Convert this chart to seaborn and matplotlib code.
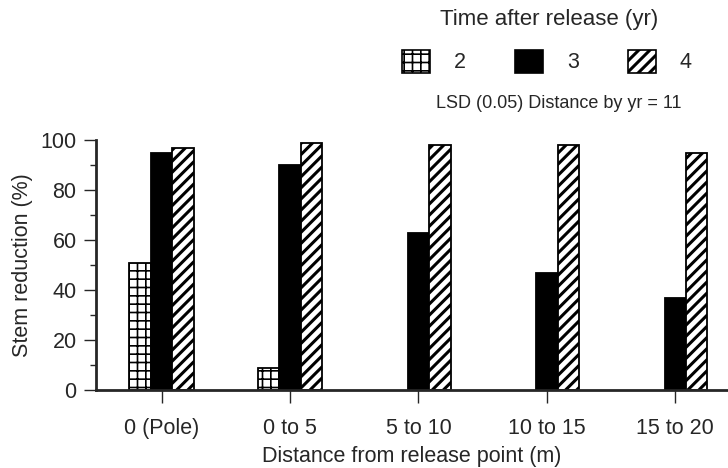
import matplotlib
matplotlib.use("Agg")
import matplotlib.pyplot as plt
import seaborn as sns
import pandas as pd
from matplotlib.patches import Patch
from matplotlib.ticker import MultipleLocator

categories = ["0 (Pole)", "0 to 5", "5 to 10", "10 to 15", "15 to 20"]
years = ["2", "3", "4"]
yr2 = [51, 9, 0, 0, 0]
yr3 = [95, 90, 63, 47, 37]
yr4 = [97, 99, 98, 98, 95]

rows = []
for yr, vals in zip(years, [yr2, yr3, yr4]):
    for c, v in zip(categories, vals):
        rows.append({"dist": c, "yr": yr, "val": v})
df = pd.DataFrame(rows)

sns.set_style("ticks")
plt.rcParams["font.family"] = ["Liberation Sans", "DejaVu Sans"]
plt.rcParams["hatch.linewidth"] = 2.2
plt.rcParams["hatch.color"] = "black"

FS = 15.5
fig = plt.figure(figsize=(7.28, 4.68), dpi=100)
ax = fig.add_axes([96/728, 1-390/468, 1-96/728, 250/468])

sns.barplot(data=df, x="dist", y="val", hue="yr", order=categories,
            hue_order=years, width=0.5, ax=ax, legend=False,
            palette=["white", "black", "white"], edgecolor="black",
            linewidth=1.3, saturation=1, gap=0)

styles = {"2": ("white", "++", 1.2), "3": ("black", "", 1.0), "4": ("white", "///", 2.2)}


def style_patch(p, yr):
    fc, h, hl = styles[yr]
    p.set_facecolor(fc)
    p.set_edgecolor("black")
    p.set_hatch(h)
    if hasattr(p, "set_hatch_linewidth"):
        p.set_hatch_linewidth(hl)


for cont, yr in zip(ax.containers, years):
    for p in cont:
        style_patch(p, yr)
        if p.get_height() == 0:
            p.set_visible(False)

ax.set_xlim(-0.51, 4.41)
ax.set_ylim(0, 100)
ax.yaxis.set_major_locator(MultipleLocator(20))
ax.yaxis.set_minor_locator(MultipleLocator(10))
ax.tick_params(axis="y", which="major", length=9, width=1, labelsize=FS, pad=5)
ax.tick_params(axis="y", which="minor", length=4.5, width=1)
ax.tick_params(axis="x", length=9, width=1, labelsize=FS, pad=11)
for s in ["top", "right"]:
    ax.spines[s].set_visible(False)
ax.spines["left"].set_linewidth(2)
ax.spines["bottom"].set_linewidth(2)
ax.set_xlabel("Distance from release point (m)", fontsize=FS, labelpad=5)
ax.set_ylabel("Stem reduction (%)", fontsize=FS, labelpad=5)

handles = []
for y in years:
    h = Patch(linewidth=1.2)
    style_patch(h, y)
    handles.append(h)
leg = fig.legend(handles, years, loc="center", bbox_to_anchor=(547/728, 1-61.5/468),
                 ncol=3, fontsize=FS, frameon=False, handlelength=1.3,
                 handleheight=1.3, handletextpad=1.1, columnspacing=2.3,
                 borderpad=0.0)
for lh, y in zip(leg.legend_handles, years):
    style_patch(lh, y)
    lh.set_linewidth(1.2)

fig.text(549/728, 1-19/468, "Time after release (yr)", fontsize=16,
         ha="center", va="center")
fig.text(559/728, 1-104/468, "LSD (0.05) Distance by yr = 11", fontsize=13,
         ha="center", va="center")

fig.savefig("out.png", dpi=100)
